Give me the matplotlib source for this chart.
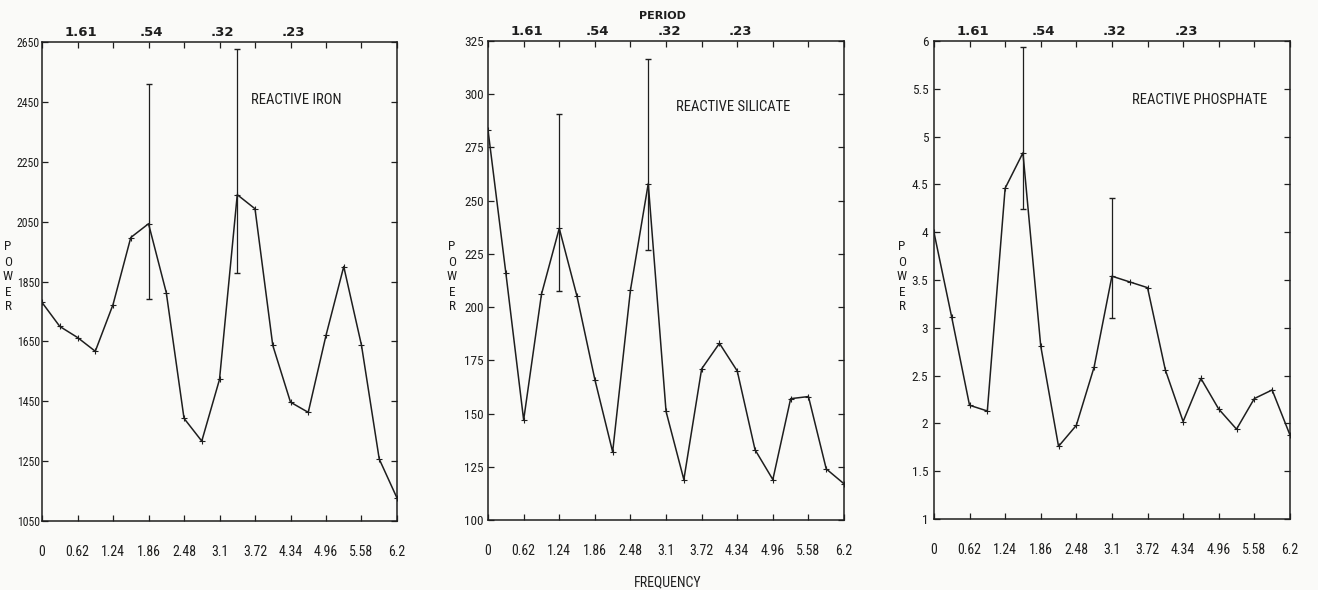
"""Power spectra of reactive iron, silicate and phosphate (three panels)."""
import matplotlib
matplotlib.use("Agg")
import matplotlib.pyplot as plt
from matplotlib import font_manager

# --- data ------------------------------------------------------------------
freq = [round(0.31 * i, 2) for i in range(21)]

iron = [1780, 1700, 1663, 1617, 1773, 1997, 2043, 1813, 1393, 1317, 1523,
        2140, 2093, 1637, 1447, 1413, 1670, 1900, 1637, 1257, 1127]
silicate = [283, 216, 147, 206, 237, 205, 166, 132, 208, 258, 151,
            119, 171, 183, 170, 133, 119, 157, 158, 124, 117]
phosphate = [4.0, 3.11, 2.19, 2.13, 4.46, 4.83, 2.81, 1.76, 1.98, 2.59, 3.54,
             3.48, 3.42, 2.56, 2.02, 2.47, 2.15, 1.94, 2.26, 2.35, 1.88]

# confidence bars: frequency index, lower, upper
iron_bars = [(6, 1793, 2510), (11, 1880, 2627)]
silicate_bars = [(4, 207.6, 290.7), (9, 226.8, 316.5)]
phosphate_bars = [(5, 4.24, 5.94), (10, 3.10, 4.36)]

x_ticks = [0, 0.62, 1.24, 1.86, 2.48, 3.1, 3.72, 4.34, 4.96, 5.58, 6.2]
x_labels = ["0", "0.62", "1.24", "1.86", "2.48", "3.1", "3.72", "4.34",
            "4.96", "5.58", "6.2"]
period_freqs = [0.62, 1.86, 3.1, 4.34]
period_labels = ["1.61", ".54", ".32", ".23"]

iron_yticks = [1050, 1250, 1450, 1650, 1850, 2050, 2250, 2450, 2650]
silicate_yticks = [100, 125, 150, 175, 200, 225, 250, 275, 300, 325]
phosphate_yticks = [1, 1.5, 2, 2.5, 3, 3.5, 4, 4.5, 5, 5.5, 6]

titles = ["REACTIVE IRON", "REACTIVE SILICATE", "REACTIVE PHOSPHATE"]
title_pos = [(3.65, 2457), (3.27, 294), (3.45, 5.38)]

# --- pick a narrow font if one is installed ---------------------------------
names = {f.name for f in font_manager.fontManager.ttflist}
narrow = dict(family="DejaVu Sans", stretch="condensed")
for cand in ["Liberation Sans Narrow", "Roboto Condensed", "Open Sans Condensed"]:
    if cand in names:
        narrow = dict(family=cand, stretch="normal")
        break

INK = "#1e1e1e"
BG = "#fafaf8"

fig = plt.figure(figsize=(13.18, 5.9), dpi=100, facecolor=BG)
boxes = [
    [0.0319, 0.1169, 0.2693, 0.8119],
    [0.3703, 0.1186, 0.2701, 0.8119],
    [0.7086, 0.1203, 0.2701, 0.8102],
]
series = [iron, silicate, phosphate]
bars = [iron_bars, silicate_bars, phosphate_bars]
yticks = [iron_yticks, silicate_yticks, phosphate_yticks]
ytick_size = [8.5, 9.5, 9.5]
ytick_pad = [1.5, 3, 4]
power_x = [8, 452, 902]

for k, box in enumerate(boxes):
    ax = fig.add_axes(box, facecolor=BG)
    ax.plot(freq, series[k], color=INK, lw=1.1, marker="+", ms=5, mew=0.8)
    for i, lo, hi in bars[k]:
        ax.vlines(freq[i], lo, hi, color=INK, lw=0.9)
        ax.plot([freq[i], freq[i]], [lo, hi], ls="none", marker="_",
                ms=4, mew=1.0, color=INK)

    ax.set_xlim(0, 6.2)
    yt = yticks[k]
    ax.set_ylim(yt[0], yt[-1])
    ax.set_xticks(x_ticks)
    ax.set_xticklabels(x_labels, fontsize=10, color=INK, **narrow)
    ax.set_yticks(yt)
    ax.set_yticklabels(["%g" % v for v in yt], fontsize=ytick_size[k],
                       color=INK, **narrow)
    ax.tick_params(axis="x", direction="in", top=True, length=4, width=0.9,
                   pad=17, colors=INK)
    ax.tick_params(axis="y", direction="in", right=True, length=4, width=0.9,
                   pad=ytick_pad[k], colors=INK)
    for s in ax.spines.values():
        s.set_linewidth(1.1)
        s.set_color(INK)

    for f, lab in zip(period_freqs, period_labels):
        ax.text(f + 0.05, 1.006, lab, transform=ax.get_xaxis_transform(),
                ha="center", va="bottom", fontsize=9.5, fontweight="bold",
                color=INK)

    tx, ty = title_pos[k]
    ax.text(tx, ty, titles[k], ha="left", va="center", fontsize=10.5,
            color=INK, **narrow)

    fig.text(power_x[k] / 1318, 1 - 277 / 590, "P\nO\nW\nE\nR",
             ha="center", va="center", fontsize=9.5, linespacing=1.2,
             color=INK, **narrow)

fig.text(662 / 1318, 1 - 16 / 590, "PERIOD", ha="center", va="center",
         fontsize=8, fontweight="bold", color=INK)
fig.text(668 / 1318, 1 - 582 / 590, "FREQUENCY", ha="center", va="center",
         fontsize=10, color=INK, **narrow)

fig.savefig("out.png", dpi=100, facecolor=BG)
